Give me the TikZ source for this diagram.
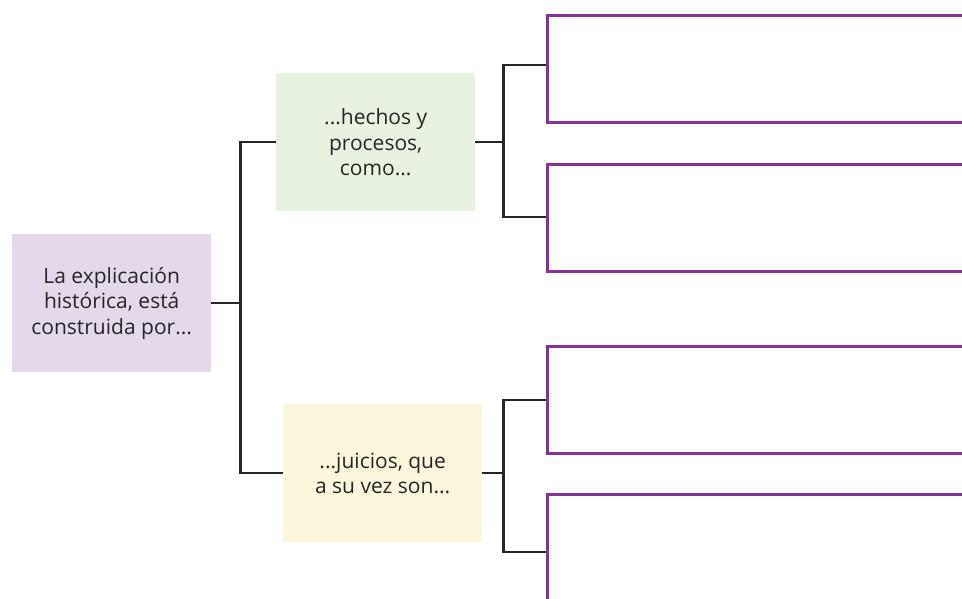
\documentclass[tikz,border=0pt]{standalone}
\usepackage{fontspec}
\setmainfont{Open Sans}
\begin{document}
\begin{tikzpicture}[x=1pt,y=-1pt,
  txt/.style={text=black!85, font=\fontsize{21}{25.5}\selectfont, align=center, inner sep=0pt},
  cbox/.style={txt, minimum width=199pt, minimum height=138pt, anchor=north west},
  ansbox/.style={draw=boxpurple, line width=2.7pt, fill=white, minimum width=460pt, minimum height=107pt, anchor=north west, inner sep=0pt},
  conn/.style={black!85, line width=2.5pt}]
\definecolor{lilac}{HTML}{E4D8EA}
\definecolor{mint}{HTML}{E7F2E0}
\definecolor{cream}{HTML}{FCF6DD}
\definecolor{boxpurple}{HTML}{86309A}
\useasboundingbox (0,0) rectangle (962,598);
\clip (0,0) rectangle (962,598);
\node[cbox, fill=lilac] (root) at (12,234) {La explicación\\histórica, está\\construida por...};
\node[cbox, fill=mint] (hechos) at (276,73) {...hechos y\\procesos,\\como...};
\node[cbox, fill=cream] (juicios) at (283,404) {...juicios, que\\a su vez son...};
\node[ansbox] (a1) at (546,14) {};
\node[ansbox] (a2) at (546,163) {};
\node[ansbox] (a3) at (546,345) {};
\node[ansbox, minimum height=140pt] (a4) at (546,493) {};
\draw[conn] (root.east) -- ++(29,0) coordinate (j0);
\draw[conn] (j0) |- (hechos.west);
\draw[conn] (j0) |- (juicios.west);
\draw[conn] (hechos.east) -- ++(28,0) coordinate (j1);
\draw[conn] (j1) |- ([shift={(0,51)}]a1.north west);
\draw[conn] (j1) |- ([shift={(0,54)}]a2.north west);
\draw[conn] (juicios.east) -- ++(21,0) coordinate (j2);
\draw[conn] (j2) |- ([shift={(0,55)}]a3.north west);
\draw[conn] (j2) |- ([shift={(0,59)}]a4.north west);
\end{tikzpicture}
\end{document}
